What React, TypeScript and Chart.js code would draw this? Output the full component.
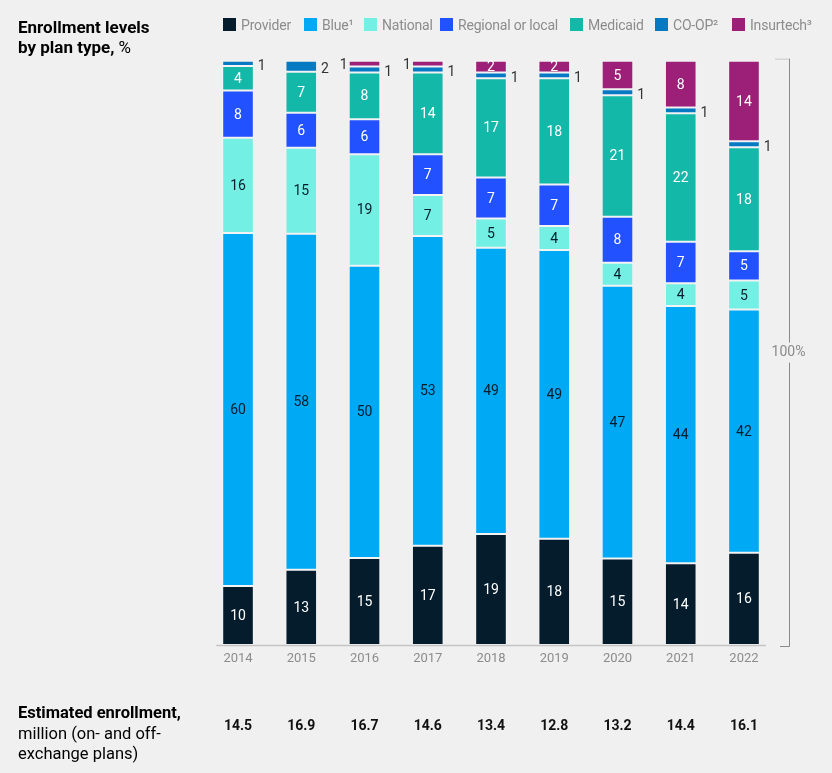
import React, { useEffect, useRef } from 'react';
import { Chart, ChartConfiguration, Plugin, registerables } from 'chart.js';

Chart.register(...registerables);

const years = ['2014', '2015', '2016', '2017', '2018', '2019', '2020', '2021', '2022'];

// shares in % (labels show the rounded value)
const provider = [10.1, 12.9, 14.9, 17.0, 19.0, 18.2, 14.8, 14.0, 15.8];
const blue = [60.4, 57.5, 50.0, 53.0, 49.0, 49.4, 46.7, 44.0, 41.6];
const national = [16.3, 14.7, 19.1, 7.0, 5.0, 4.1, 3.9, 3.9, 5.0];
const regional = [8.1, 6.0, 6.0, 7.0, 7.0, 7.1, 7.9, 7.1, 5.0];
const medicaid = [4.2, 7.0, 8.0, 14.0, 17.0, 18.2, 20.8, 22.0, 17.8];
const coop = [0.9, 1.9, 1.0, 1.0, 1.0, 1.0, 1.0, 1.0, 1.0];
const insurtech = [0, 0, 1.0, 1.0, 2.0, 2.0, 4.9, 8.0, 13.8];

// million, on- and off-exchange plans
const enrollment = [14.5, 16.9, 16.7, 14.6, 13.4, 12.8, 13.2, 14.4, 16.1];

const seriesNames = ['Provider', 'Blue¹', 'National', 'Regional or local', 'Medicaid', 'CO-OP²', 'Insurtech³'];
const seriesColors = ['#051c2c', '#00a9f4', '#74efe3', '#2251ff', '#14b8a8', '#0679c3', '#9c1f78'];
const labelColors = ['#ffffff', '#051c2c', '#051c2c', '#ffffff', '#ffffff', '#333333', '#ffffff'];

const legendLeft = [223, 304, 364, 440, 570, 655, 732];

const FONT = 'Roboto, "Liberation Sans", sans-serif';

const overlayPlugin: Plugin<'bar'> = {
  id: 'overlay',
  afterDatasetsDraw(chart) {
    const { ctx, chartArea } = chart;
    ctx.save();
    ctx.textBaseline = 'middle';

    // segment labels
    ctx.font = `14px ${FONT}`;
    chart.data.datasets.forEach((ds, di) => {
      const meta = chart.getDatasetMeta(di);
      meta.data.forEach((el: any, i) => {
        const v = ds.data[i] as number;
        if (!v) return;
        const txt = String(Math.round(v));
        const cy = (el.y + el.base) / 2;
        const half = el.width / 2;
        if (di === 5) {
          ctx.fillStyle = '#333333';
          ctx.textAlign = 'left';
          ctx.fillText(txt, el.x + half + 4, cy + 3);
        } else if (di === 6 && v < 1.5) {
          ctx.fillStyle = '#333333';
          ctx.textAlign = 'right';
          ctx.fillText(txt, el.x - half - 1, cy + 2);
        } else {
          ctx.fillStyle = labelColors[di];
          ctx.textAlign = 'center';
          ctx.fillText(txt, el.x, cy + 1);
        }
      });
    });

    const bars = chart.getDatasetMeta(0).data as any[];
    const first = bars[0];
    const last = bars[bars.length - 1];

    // baseline
    ctx.strokeStyle = '#c4c4c4';
    ctx.lineWidth = 1.5;
    ctx.beginPath();
    ctx.moveTo(first.x - first.width / 2 - 6, chartArea.bottom + 0.5);
    ctx.lineTo(last.x + last.width / 2 + 6, chartArea.bottom + 0.5);
    ctx.stroke();

    // year labels and enrollment row
    bars.forEach((el, i) => {
      ctx.textAlign = 'center';
      ctx.fillStyle = '#8c8c8c';
      ctx.font = `13px ${FONT}`;
      ctx.fillText(years[i], el.x, chartArea.bottom + 14);
      ctx.fillStyle = '#111111';
      ctx.font = `bold 14px ${FONT}`;
      ctx.fillText(enrollment[i].toFixed(1), el.x, 726);
    });

    // 100% bracket
    const bx = 789.5;
    const top = chartArea.top - 2;
    const bottom = chartArea.bottom + 1.5;
    const midY = (top + bottom) / 2;
    ctx.lineWidth = 1;
    ctx.strokeStyle = '#c8c8c8';
    ctx.beginPath();
    ctx.moveTo(775, top + 0.5);
    ctx.lineTo(bx, top + 0.5);
    ctx.stroke();
    ctx.strokeStyle = '#8a8a8a';
    ctx.beginPath();
    ctx.moveTo(bx, top);
    ctx.lineTo(bx, midY - 10);
    ctx.moveTo(bx, midY + 10);
    ctx.lineTo(bx, bottom);
    ctx.lineTo(780, bottom);
    ctx.stroke();
    ctx.fillStyle = '#8a8a8a';
    ctx.font = `14px ${FONT}`;
    ctx.textAlign = 'center';
    ctx.fillText('100%', bx - 1, midY);

    ctx.restore();
  }
};

const EnrollmentChart: React.FC = () => {
  const canvasRef = useRef<HTMLCanvasElement>(null);
  const chartRef = useRef<Chart | null>(null);

  useEffect(() => {
    document.body.style.margin = '0';
    document.body.style.background = '#f0f0f0';
    if (!canvasRef.current) return;
    const ctx = canvasRef.current.getContext('2d');
    if (!ctx) return;

    const series = [provider, blue, national, regional, medicaid, coop, insurtech];

    const config: ChartConfiguration<'bar'> = {
      type: 'bar',
      data: {
        labels: years,
        datasets: series.map((data, i) => ({
          label: seriesNames[i],
          data,
          backgroundColor: seriesColors[i],
          borderColor: 'rgba(255,255,255,0.3)',
          borderWidth: 1,
          borderSkipped: false,
          categoryPercentage: 1,
          barPercentage: 0.5
        }))
      },
      options: {
        responsive: false,
        animation: false,
        layout: {
          padding: { left: 206.4, right: 56.4, top: 60.7, bottom: 128 }
        },
        scales: {
          x: { stacked: true, display: false },
          y: { stacked: true, display: false, min: 0, max: 100 }
        },
        plugins: {
          legend: { display: false },
          tooltip: { enabled: false }
        }
      },
      plugins: [overlayPlugin]
    };

    chartRef.current = new Chart(ctx, config);

    return () => {
      if (chartRef.current) {
        chartRef.current.destroy();
        chartRef.current = null;
      }
    };
  }, []);

  return (
    <div style={{ position: 'relative', width: 832, height: 773, background: '#f0f0f0', fontFamily: FONT }}>
      <canvas ref={canvasRef} width={832} height={773} style={{ position: 'absolute', left: 0, top: 0 }} />

      {/* Title */}
      <div style={{ position: 'absolute', left: 18, top: 17, fontSize: 17, lineHeight: '20px', color: '#000' }}>
        <div style={{ fontWeight: 700 }}>Enrollment levels</div>
        <div><span style={{ fontWeight: 700 }}>by plan type,</span> %</div>
      </div>

      {/* Legend */}
      {seriesNames.map((name, i) => (
        <div
          key={name}
          style={{ position: 'absolute', left: legendLeft[i], top: 17, height: 15, display: 'flex', alignItems: 'center' }}
        >
          <span style={{ display: 'inline-block', width: 13, height: 13, background: seriesColors[i], marginRight: 5 }} />
          <span style={{ fontSize: 14, color: '#8c8c8c', whiteSpace: 'nowrap', letterSpacing: -0.2 }}>{name}</span>
        </div>
      ))}

      {/* Bottom row label */}
      <div style={{ position: 'absolute', left: 18, top: 703, fontSize: 16.5, lineHeight: '20.5px', color: '#000' }}>
        <div style={{ fontWeight: 700 }}>Estimated enrollment,</div>
        <div>million (on- and off-</div>
        <div>exchange plans)</div>
      </div>
    </div>
  );
};

export default function App() {
  return <EnrollmentChart />;
}
